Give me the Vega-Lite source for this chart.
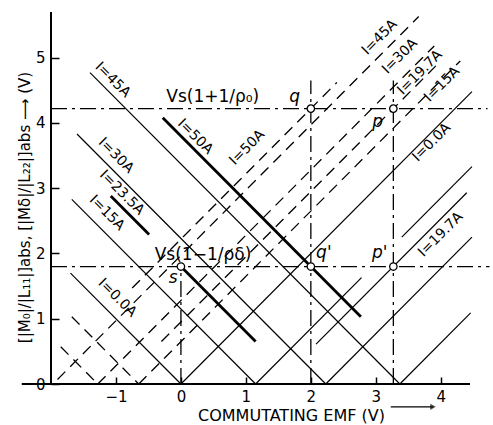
{
  "$schema": "https://vega.github.io/schema/vega-lite/v6.json",
  "width": 419,
  "height": 372,
  "autosize": "none",
  "padding": {"left": 51, "top": 12, "right": 23, "bottom": 41},
  "background": "white",
  "config": {
    "view": {"stroke": null},
    "font": "DejaVu Sans",
    "text": {"font": "DejaVu Sans", "fontSize": 14, "color": "black"}
  },
  "datasets": {
    "segments": [
      {"kind": "axis", "x": -2.45, "y": 0, "x2": 4.45, "y2": 0},
      {"kind": "axis", "x": -2, "y": 0, "x2": -2, "y2": 5.7},

      {"kind": "Mo", "x": -1.7, "y": 1.7, "x2": 0, "y2": 0},
      {"kind": "Mo", "x": 0, "y": 0, "x2": 4.48, "y2": 4.48},
      {"kind": "Mo", "x": -1.68, "y": 2.83, "x2": 1.15, "y2": 0},
      {"kind": "Mo", "x": 1.15, "y": 0, "x2": 2.78, "y2": 1.63},
      {"kind": "Mo", "x": 3.4, "y": 2.25, "x2": 4.48, "y2": 3.33},
      {"kind": "Mo", "x": -1.6, "y": 3.83, "x2": 2.23, "y2": 0},
      {"kind": "Mo", "x": 2.23, "y": 0, "x2": 4.48, "y2": 2.25},
      {"kind": "Mo", "x": -1.4, "y": 4.77, "x2": 3.37, "y2": 0},
      {"kind": "Mo", "x": 3.37, "y": 0, "x2": 4.46, "y2": 1.09},
      {"kind": "Mo", "x": 2.08, "y": 0.61, "x2": 4.4, "y2": 2.93},

      {"kind": "Mo heavy", "x": -1.08, "y": 2.88, "x2": -0.49, "y2": 2.29},
      {"kind": "Mo heavy", "x": 0, "y": 1.8, "x2": 1.15, "y2": 0.65},
      {"kind": "Mo heavy", "x": -0.28, "y": 4.08, "x2": 2.77, "y2": 1.03},

      {"kind": "Md", "x": -1.9, "y": 0.07, "x2": 3.66, "y2": 5.63},
      {"kind": "Md", "x": -0.75, "y": 1.47, "x2": 2.4, "y2": 4.62},
      {"kind": "Md", "x": -1.28, "y": 0, "x2": 3.9, "y2": 5.18},
      {"kind": "Md", "x": -0.3, "y": 0.65, "x2": 4.0, "y2": 4.95},
      {"kind": "Md", "x": -0.65, "y": 0, "x2": 4.3, "y2": 4.95},
      {"kind": "Md", "x": -1.68, "y": 1.03, "x2": -0.65, "y2": 0},
      {"kind": "Md", "x": -1.85, "y": 0.57, "x2": -1.28, "y2": 0},

      {"kind": "guide", "x": -2, "y": 4.22, "x2": 4.72, "y2": 4.22},
      {"kind": "guide", "x": -2, "y": 1.8, "x2": 4.75, "y2": 1.8},
      {"kind": "guide", "x": 0, "y": 0, "x2": 0, "y2": 1.8},
      {"kind": "guide", "x": 2, "y": 0, "x2": 2, "y2": 4.65},
      {"kind": "guide", "x": 3.27, "y": 0, "x2": 3.27, "y2": 4.65},

      {"kind": "arrow", "x": 3.23, "y": -0.35, "x2": 3.88, "y2": -0.35}
    ],
    "points": [
      {"name": "s", "x": 0, "y": 1.8},
      {"name": "q'", "x": 2, "y": 1.8},
      {"name": "p'", "x": 3.27, "y": 1.8},
      {"name": "q", "x": 2, "y": 4.22},
      {"name": "p", "x": 3.27, "y": 4.22}
    ],
    "pointLabels": [
      {"text": "q", "x": 1.75, "y": 4.4},
      {"text": "p", "x": 3.03, "y": 4.02},
      {"text": "q'", "x": 2.2, "y": 2.01},
      {"text": "p'", "x": 3.06, "y": 2.01},
      {"text": "s", "x": -0.12, "y": 1.62}
    ],
    "descLabels": [
      {"text": "I=45A", "x": -1.05, "y": 4.66},
      {"text": "I=50A", "x": 0.22, "y": 3.79},
      {"text": "I=30A", "x": -1.0, "y": 3.5},
      {"text": "I=23.5A", "x": -0.91, "y": 2.93},
      {"text": "I=15A", "x": -1.14, "y": 2.62},
      {"text": "I=0.0A", "x": -0.98, "y": 1.32}
    ],
    "ascLabels": [
      {"text": "I=50A", "x": 1.02, "y": 3.62},
      {"text": "I=45A", "x": 3.06, "y": 5.31},
      {"text": "I=30A", "x": 3.37, "y": 5.02},
      {"text": "I=19.7A", "x": 3.68, "y": 4.77},
      {"text": "I=15A", "x": 4.02, "y": 4.59},
      {"text": "I=0.0A", "x": 3.86, "y": 3.7},
      {"text": "I=19.7A", "x": 4.0, "y": 2.29}
    ],
    "formulas": [
      {"text": "Vs(1+1/ρ₀)", "x": 0.49, "y": 4.4},
      {"text": "Vs(1−1/ρδ)", "x": 0.34, "y": 1.98}
    ]
  },
  "encoding": {
    "x": {"type": "quantitative", "scale": {"domain": [-2, 4.45], "nice": false, "zero": false}},
    "y": {"type": "quantitative", "scale": {"domain": [0, 5.7], "nice": false, "zero": false}}
  },
  "layer": [
    {
      "data": {"name": "segments"},
      "transform": [{"filter": "datum.kind === 'axis'"}],
      "mark": {"type": "rule", "stroke": "black", "strokeWidth": 2, "clip": false},
      "encoding": {
        "x": {"field": "x", "type": "quantitative",
          "axis": {"title": "COMMUTATING EMF (V)", "values": [-1, 0, 1, 2, 3, 4], "format": "d", "domain": false,
            "grid": false, "tickSize": -7, "tickColor": "black", "tickWidth": 1.5,
            "labelPadding": 12, "labelFontSize": 15, "labelColor": "black", "labelFont": "DejaVu Sans",
            "titleFontSize": 16, "titleFontWeight": "normal", "titleFont": "DejaVu Sans", "titleColor": "black",
            "titleX": 240, "titleY": 23, "titleAlign": "center", "titleBaseline": "top"}},
        "y": {"field": "y", "type": "quantitative",
          "axis": {"title": "[|M₀|/|L₁₁|]abs,   [|Mδ|/|L₂₂|]abs  ⟶ (V)", "values": [0, 1, 2, 3, 4, 5], "format": "d", "domain": false,
            "grid": false, "tickSize": -8, "tickColor": "black", "tickWidth": 1.5,
            "labelPadding": 14, "labelFontSize": 15, "labelColor": "black", "labelFont": "DejaVu Sans",
            "titleFontSize": 15, "titleFontWeight": "normal", "titleFont": "DejaVu Sans", "titleColor": "black",
            "titleX": -27, "titleY": 195, "titleAngle": -90, "titleAlign": "center", "titleBaseline": "middle"}},
        "x2": {"field": "x2"},
        "y2": {"field": "y2"}
      }
    },
    {
      "data": {"name": "segments"},
      "transform": [{"filter": "datum.kind === 'Mo'"}],
      "mark": {"type": "rule", "stroke": "black", "strokeWidth": 1.2, "clip": false},
      "encoding": {"x": {"field": "x"}, "y": {"field": "y"}, "x2": {"field": "x2"}, "y2": {"field": "y2"}}
    },
    {
      "data": {"name": "segments"},
      "transform": [{"filter": "datum.kind === 'Mo heavy'"}],
      "mark": {"type": "rule", "stroke": "black", "strokeWidth": 2.8, "clip": false},
      "encoding": {"x": {"field": "x"}, "y": {"field": "y"}, "x2": {"field": "x2"}, "y2": {"field": "y2"}}
    },
    {
      "data": {"name": "segments"},
      "transform": [{"filter": "datum.kind === 'Md'"}],
      "mark": {"type": "rule", "stroke": "black", "strokeWidth": 1.3, "strokeDash": [11, 7], "clip": false},
      "encoding": {"x": {"field": "x"}, "y": {"field": "y"}, "x2": {"field": "x2"}, "y2": {"field": "y2"}}
    },
    {
      "data": {"name": "segments"},
      "transform": [{"filter": "datum.kind === 'guide'"}],
      "mark": {"type": "rule", "stroke": "black", "strokeWidth": 1.3, "strokeDash": [16, 5, 3, 5], "clip": false},
      "encoding": {"x": {"field": "x"}, "y": {"field": "y"}, "x2": {"field": "x2"}, "y2": {"field": "y2"}}
    },
    {
      "data": {"name": "segments"},
      "transform": [{"filter": "datum.kind === 'arrow'"}],
      "mark": {"type": "rule", "stroke": "black", "strokeWidth": 1.3, "clip": false},
      "encoding": {"x": {"field": "x"}, "y": {"field": "y"}, "x2": {"field": "x2"}, "y2": {"field": "y2"}}
    },
    {
      "data": {"name": "segments"},
      "transform": [{"filter": "datum.kind === 'arrow'"}],
      "mark": {"type": "point", "shape": "triangle-right", "filled": true, "color": "black", "size": 40, "clip": false},
      "encoding": {"x": {"field": "x2"}, "y": {"field": "y2"}}
    },
    {
      "data": {"name": "points"},
      "mark": {"type": "point", "shape": "circle", "filled": true, "fill": "white", "stroke": "black", "strokeWidth": 1.3, "size": 55, "opacity": 1},
      "encoding": {"x": {"field": "x"}, "y": {"field": "y"}}
    },
    {
      "data": {"name": "pointLabels"},
      "mark": {"type": "text", "fontSize": 17, "fontStyle": "italic"},
      "encoding": {"x": {"field": "x"}, "y": {"field": "y"}, "text": {"field": "text"}}
    },
    {
      "data": {"name": "descLabels"},
      "mark": {"type": "text", "angle": 45, "fontSize": 14},
      "encoding": {"x": {"field": "x"}, "y": {"field": "y"}, "text": {"field": "text"}}
    },
    {
      "data": {"name": "ascLabels"},
      "mark": {"type": "text", "angle": -45, "fontSize": 14},
      "encoding": {"x": {"field": "x"}, "y": {"field": "y"}, "text": {"field": "text"}}
    },
    {
      "data": {"name": "formulas"},
      "mark": {"type": "text", "fontSize": 17},
      "encoding": {"x": {"field": "x"}, "y": {"field": "y"}, "text": {"field": "text"}}
    }
  ]
}
